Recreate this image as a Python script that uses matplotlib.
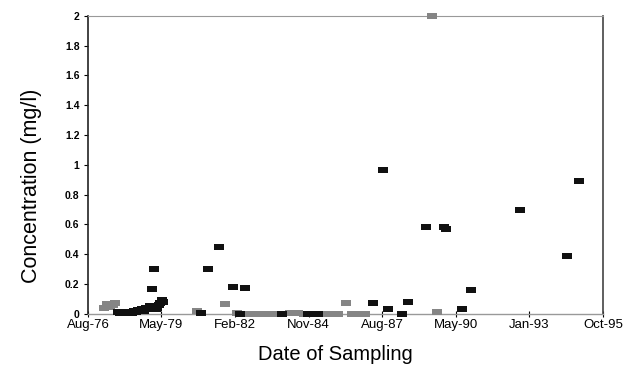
import matplotlib
matplotlib.use('Agg')
import matplotlib.pyplot as plt
import matplotlib.dates as mdates
import numpy as np

plt.rcParams['font.family'] = ['Liberation Sans', 'DejaVu Sans']

# days after 25 Aug 1976, concentration in mg/l
black_days = [408, 435, 462, 489, 516, 544, 571, 598, 625, 652, 680, 707, 734, 761, 788,
              815, 843, 870, 897, 924, 938, 965, 979, 1006, 1019,
              1536, 1631, 1781, 1971, 2066, 2134, 2637, 2990, 3126, 3874, 4010, 4078, 4268,
              4350, 4594, 4839, 4866, 5084, 5206, 5872, 6511, 6674]
black_conc = [0.013, 0.007, 0.007, 0.007, 0.013, 0.007, 0.013, 0.007, 0.02, 0.013, 0.027,
              0.02, 0.034, 0.02, 0.04, 0.03, 0.054, 0.17, 0.30, 0.03, 0.04, 0.06, 0.074,
              0.09, 0.08,
              0.007, 0.30, 0.45, 0.18, 0.0, 0.175, 0.0, 0.0, 0.0, 0.074,
              0.966, 0.034, 0.0, 0.08, 0.584, 0.584, 0.57, 0.034, 0.16, 0.70, 0.39, 0.89]

grey_days = [218, 258, 299, 340, 367, 1481, 1862, 2025, 2188, 2297, 2351, 2419, 2528,
             2746, 2854, 2935, 3194, 3303, 3398, 3507, 3588, 3670, 3765, 4676, 4744]
grey_conc = [0.04, 0.067, 0.047, 0.06, 0.074, 0.02, 0.067, 0.007, 0.0, 0.0, 0.0, 0.0, 0.0,
             0.007, 0.007, 0.0, 0.0, 0.0, 0.0, 0.074, 0.0, 0.0, 0.0, 2.0, 0.013]

start = np.datetime64('1976-08-25')
tick_days = [0, 1000, 2000, 3000, 4000, 5000, 6000, 7000]

bx = start + np.array(black_days).astype('timedelta64[D]')
gx = start + np.array(grey_days).astype('timedelta64[D]')
ticks = start + np.array(tick_days).astype('timedelta64[D]')

rect = [(-1, -0.6), (1, -0.6), (1, 0.6), (-1, 0.6), (-1, -0.6)]

fig = plt.figure(figsize=(6.28, 3.68), dpi=100)
ax = fig.add_axes([0.140, 0.147, 0.820, 0.810])

ax.scatter(gx, grey_conc, marker=rect, s=55, color='#858585', linewidths=0, clip_on=False, zorder=3)
ax.scatter(bx, black_conc, marker=rect, s=55, color='#111111', linewidths=0, clip_on=False, zorder=4)

ax.set_xlim(ticks[0], ticks[-1])
ax.set_ylim(0, 2)
ax.set_xticks(ticks)
ax.xaxis.set_major_formatter(mdates.DateFormatter('%b-%y'))
ax.set_yticks(np.arange(0, 2.01, 0.2))
ax.set_yticklabels(['0', '0.2', '0.4', '0.6', '0.8', '1', '1.2', '1.4', '1.6', '1.8', '2'])

ax.tick_params(axis='y', labelsize=7.5, length=3, width=0.8, direction='out', pad=3)
ax.tick_params(axis='x', labelsize=9.5, length=4, width=0.8, direction='inout', pad=2)
for lab in ax.get_yticklabels():
    lab.set_fontweight('bold')

ax.spines['left'].set_color('#222222')
ax.spines['left'].set_linewidth(1.2)
ax.spines['right'].set_color('#444444')
ax.spines['right'].set_linewidth(1.2)
ax.spines['top'].set_color('#999999')
ax.spines['top'].set_linewidth(0.8)
ax.spines['bottom'].set_color('#999999')
ax.spines['bottom'].set_linewidth(1.0)

ax.set_ylabel('Concentration (mg/l)', fontsize=15.5)
ax.yaxis.set_label_coords(-0.089, 0.43)
ax.set_xlabel('Date of Sampling', fontsize=14.5)
ax.xaxis.set_label_coords(0.48, -0.104)

plt.savefig('out.png', dpi=100)
